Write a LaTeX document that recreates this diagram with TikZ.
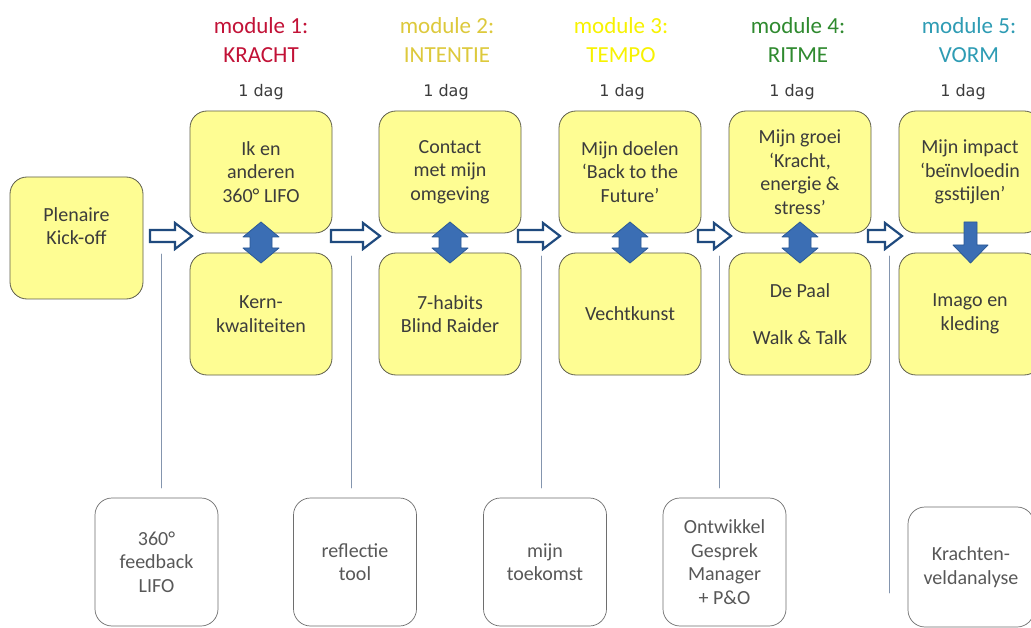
\documentclass[tikz,border=0pt]{standalone}
\usepackage{fontspec}
\setmainfont{Carlito}
\newfontfamily\dagfont{DejaVu Sans}
\usetikzlibrary{positioning}
\definecolor{geel}{HTML}{FEFD93}
\definecolor{geelrand}{HTML}{5E5E4C}
\definecolor{tekst}{HTML}{3C3C3C}
\definecolor{grijstekst}{HTML}{585858}
\definecolor{grijsrand}{HTML}{6E6E6E}
\definecolor{pijlrand}{HTML}{1F4A7E}
\definecolor{blauw}{HTML}{3B6EB4}
\definecolor{blauwrand}{HTML}{2B5A96}
\definecolor{lijnkleur}{HTML}{8495AE}
\definecolor{kracht}{HTML}{C21237}
\definecolor{intentie}{HTML}{DDC93C}
\definecolor{tempo}{HTML}{F7F200}
\definecolor{ritme}{HTML}{2F8A2F}
\definecolor{vorm}{HTML}{2E9CB4}

\begin{document}
\begin{tikzpicture}[x=1pt,y=-1pt,line cap=round,line join=round,
  gbox/.style={draw=geelrand,fill=geel,line width=0.8pt,rounded corners=17pt,
    minimum width=142pt,minimum height=122pt,inner sep=0pt,align=center,
    text=tekst,font=\fontsize{20}{23.5}\selectfont},
  wbox/.style={draw=grijsrand,fill=white,line width=0.7pt,rounded corners=17pt,
    minimum width=123pt,minimum height=128pt,inner sep=0pt,align=center,
    text=grijstekst,font=\fontsize{20}{23.5}\selectfont},
  titel/.style={align=center,inner sep=0pt,font=\fontsize{23}{29}\selectfont},
  dag/.style={anchor=base,inner sep=0pt,text=tekst,font=\dagfont\fontsize{16}{19}\selectfont},
  holpijl/.style={draw=pijlrand,fill=white,line width=2.2pt,line cap=butt,line join=miter},
  blokpijl/.style={draw=blauwrand,fill=blauw,line width=0.8pt},
  lijn/.style={draw=lijnkleur,line width=0.9pt}]
\clip (0,0) rectangle (1031,628);
\fill[white] (0,0) rectangle (1031,628);

% start
\node[gbox,minimum width=133pt] (kick) at (76.5,238) {Plenaire\\Kick-off\\\mbox{}};

% module 1
\node[titel,text=kracht] (t1) at (261,40) {module 1:\\KRACHT};
\node[dag] (d1) at (261,97) {1 dag};
\node[gbox] (m1a) at (261,172) {Ik en\\anderen\\360° LIFO};
\node[gbox] (m1b) at (261,314) {Kern-\\kwaliteiten};

% module 2
\node[titel,text=intentie] (t2) at (447,40) {module 2:\\INTENTIE};
\node[dag] (d2) at (446,97) {1 dag};
\node[gbox] (m2a) at (450,172) {Contact\\met mijn\\omgeving};
\node[gbox] (m2b) at (450,314) {7-habits\\Blind Raider};

% module 3
\node[titel,text=tempo] (t3) at (621,40) {module 3:\\TEMPO};
\node[dag] (d3) at (622,97) {1 dag};
\node[gbox] (m3a) at (630,172) {Mijn doelen\\‘Back to the\\Future’};
\node[gbox] (m3b) at (630,314) {Vechtkunst};

% module 4
\node[titel,text=ritme] (t4) at (798,40) {module 4:\\RITME};
\node[dag] (d4) at (792,97) {1 dag};
\node[gbox] (m4a) at (800,172) {Mijn groei\\‘Kracht,\\energie \&\\stress’};
\node[gbox] (m4b) at (800,314) {De Paal\\[23.5pt]Walk \& Talk};

% module 5
\node[titel,text=vorm] (t5) at (969,40) {module 5:\\VORM};
\node[dag] (d5) at (963,97) {1 dag};
\node[gbox] (m5a) at (970,172) {Mijn impact\\‘beïnvloedin\\gsstijlen’};
\node[gbox] (m5b) at (970,314) {Imago en\\kleding};

% pijlen tussen de modules
\draw[holpijl] (150,230) -- (175,230) -- (175,223) -- (192,236) -- (175,249) -- (175,242) -- (150,242) -- cycle;
\draw[holpijl] (331,230) -- (363,230) -- (363,223) -- (380,236) -- (363,249) -- (363,242) -- (331,242) -- cycle;
\draw[holpijl] (518,230) -- (543,230) -- (543,223) -- (560,236) -- (543,249) -- (543,242) -- (518,242) -- cycle;
\draw[holpijl] (698,230) -- (714,230) -- (714,223) -- (731,236) -- (714,249) -- (714,242) -- (698,242) -- cycle;
\draw[holpijl] (868,230) -- (885,230) -- (885,223) -- (902,236) -- (885,249) -- (885,242) -- (868,242) -- cycle;

% boven <-> onder
\foreach \x in {261,450,630,800}
  \draw[blokpijl] (\x,222) -- (\x+18,237) -- (\x+11,237) -- (\x+11,248) -- (\x+18,248)
    -- (\x,263) -- (\x-18,248) -- (\x-11,248) -- (\x-11,237) -- (\x-18,237) -- cycle;
\draw[blokpijl] (964,222) -- (977,222) -- (977,245) -- (988,245) -- (970.5,263)
  -- (953,245) -- (964,245) -- cycle;

% tools
\node[wbox] (f1) at (156.5,562) {360°\\feedback\\LIFO};
\node[wbox] (f2) at (355,562) {reflectie\\tool};
\node[wbox] (f3) at (545,562) {mijn\\toekomst};
\node[wbox] (f4) at (724.5,562) {Ontwikkel\\Gesprek\\Manager\\+ P\&O};
\node[wbox,minimum width=126pt,minimum height=120pt] (f5) at (971,567) {Krachten-\\veldanalyse};

\coordinate (l1t) at (161,254);
\coordinate (l1b) at (161,488);
\coordinate (l2t) at (351,256);
\coordinate (l2b) at (351,488);
\coordinate (l3t) at (541,256);
\coordinate (l3b) at (541,488);
\coordinate (l4t) at (719,256);
\coordinate (l4b) at (719,488);
\coordinate (l5t) at (889,256);
\coordinate (l5b) at (889,593);
\draw[lijn] (l1t) -- (l1b);
\draw[lijn] (l2t) -- (l2b);
\draw[lijn] (l3t) -- (l3b);
\draw[lijn] (l4t) -- (l4b);
\draw[lijn] (l5t) -- (l5b);
\end{tikzpicture}
\end{document}
